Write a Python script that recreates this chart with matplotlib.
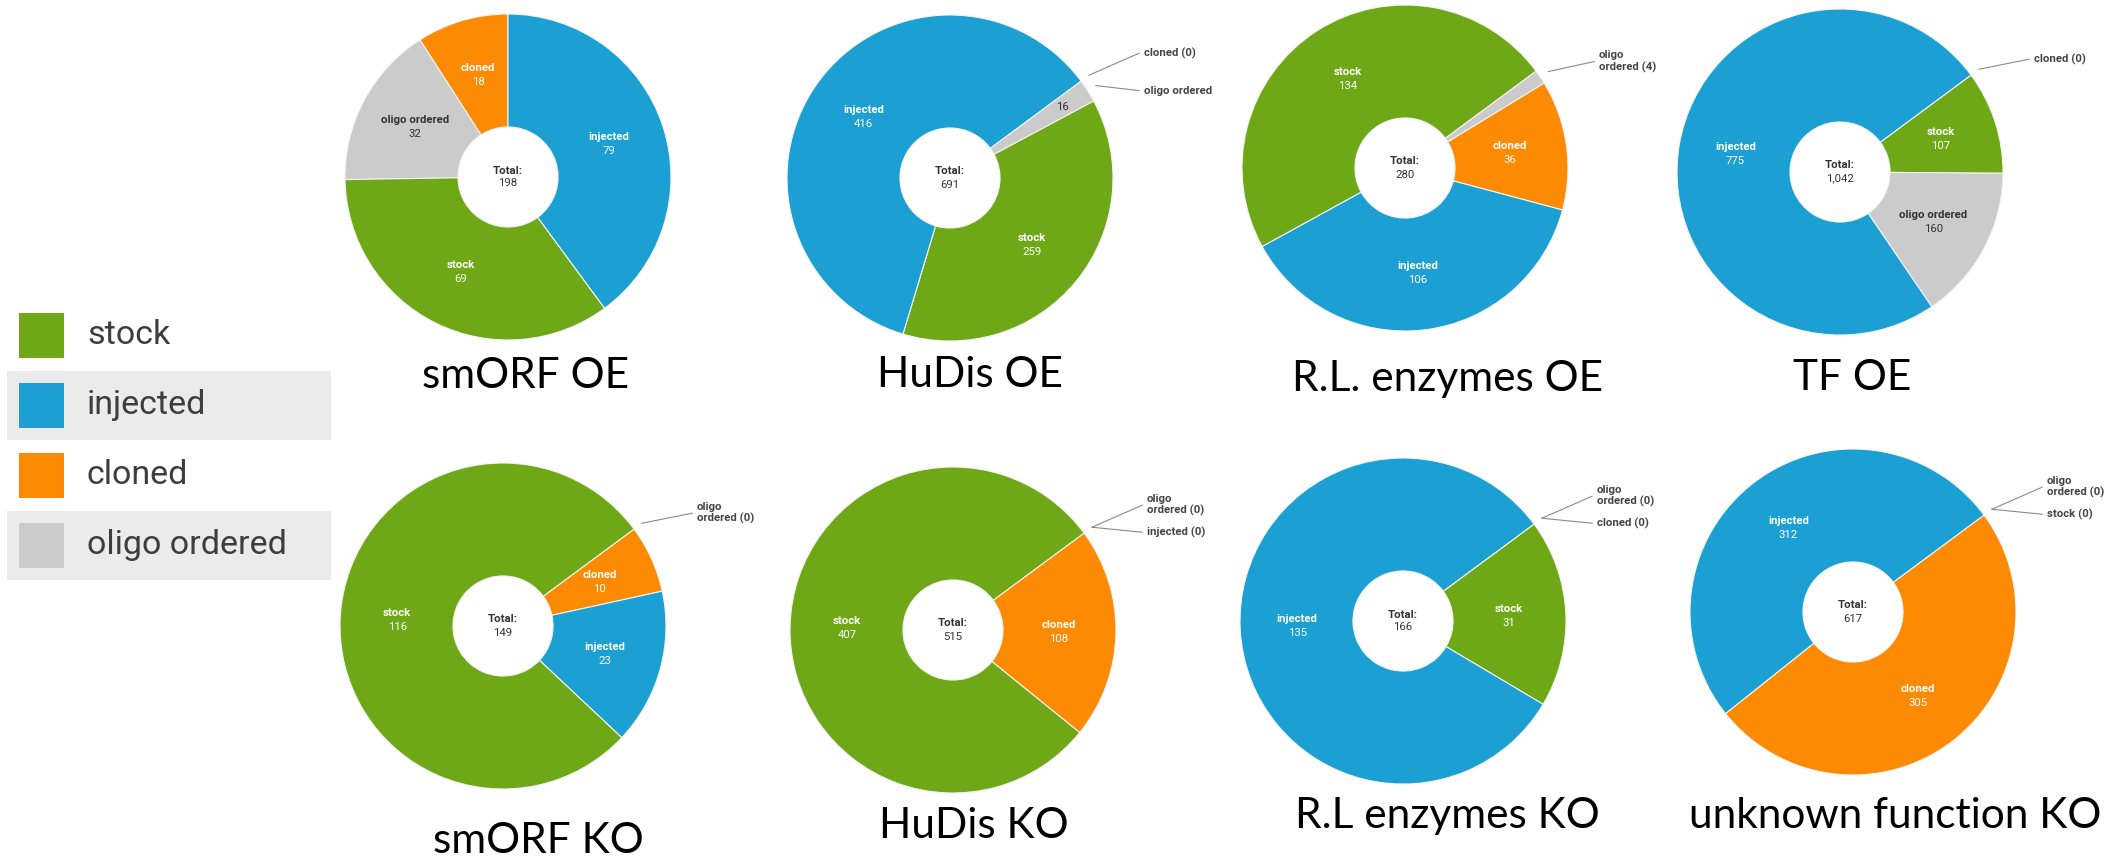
import matplotlib
matplotlib.use('Agg')
import matplotlib.pyplot as plt
from matplotlib.patches import Rectangle
import numpy as np

W, H = 2121, 859

categories = ['stock', 'injected', 'cloned', 'oligo ordered']
colors = ['#6fa816', '#1c9fd2', '#fd8a03', '#cbcbcb']

titles = ['smORF OE', 'HuDis OE', 'R.L. enzymes OE', 'TF OE',
          'smORF KO', 'HuDis KO', 'R.L enzymes KO', 'unknown function KO']
# counts per project, same order as titles
stock    = [69, 259, 134, 107, 116, 407, 31, 0]
injected = [79, 416, 106, 775, 23, 0, 135, 312]
cloned   = [18, 0, 36, 0, 10, 108, 0, 305]
oligo    = [32, 16, 4, 160, 0, 0, 0, 0]

# layout in pixels (y measured from the top)
centers = [(508, 177), (950, 178), (1405, 168), (1840, 172),
           (503, 626), (953, 630), (1403, 621), (1853, 612)]
title_xy = [(526, 388), (970, 387), (1448, 391), (1852, 390),
            (538, 853), (974, 838), (1447, 828), (1895, 828)]   # centre x, baseline y
start_cw = [0, 53.5, 53.5, 53.5, 53.5, 53.5, 53.5, 53.5]   # deg clockwise from 12 o'clock
clockwise = [False, True, True, True, True, True, True, True]
R = 163
HOLE = 0.307

fig = plt.figure(figsize=(W / 100, H / 100), dpi=100)
ax = fig.add_axes([0, 0, 1, 1])

lab_font = 'Roboto'
fs = 8.2
dark = '#333333'

for k in range(8):
    vals = [stock[k], injected[k], cloned[k], oligo[k]]
    total = sum(vals)
    order = sorted(range(4), key=lambda i: (vals[i], -i))
    v = [vals[i] for i in order]
    c = [colors[i] for i in order]
    cx, cy = centers[k][0], H - centers[k][1]
    wedges, _ = ax.pie(v, colors=c, startangle=90 - start_cw[k],
                       counterclock=not clockwise[k], center=(cx, cy), radius=R,
                       wedgeprops=dict(width=R * (1 - HOLE), edgecolor='#f4f4f4', linewidth=0.8))

    outside = []
    for w, i in zip(wedges, order):
        frac = vals[i] / total
        mid = np.deg2rad((w.theta1 + w.theta2) / 2)
        tc = dark if categories[i] == 'oligo ordered' else 'white'
        if frac >= 0.03:
            r = 0.65 * R
            x, y = cx + r * np.cos(mid), cy + r * np.sin(mid)
            ax.text(x, y + 7, categories[i], ha='center', va='center', fontsize=fs,
                    fontweight='bold', color=tc, family=lab_font)
            ax.text(x, y - 7, f'{vals[i]:,}', ha='center', va='center', fontsize=fs,
                    color=tc, family=lab_font)
        elif frac >= 0.02:
            r = 0.82 * R
            ax.text(cx + r * np.cos(mid), cy + r * np.sin(mid), f'{vals[i]:,}',
                    ha='center', va='center', fontsize=fs, color=tc, family=lab_font)
            outside.append((mid, categories[i]))
        else:
            name = f'{categories[i]} ({vals[i]:,})'
            if len(name) > 14:
                name = name.replace(' ', '\n', 1)
            outside.append((mid, name))

    # leader lines for slices too thin to hold a label
    n = len(outside)
    for j, (mid, name) in enumerate(outside):
        ax_, ay_ = cx + 1.06 * R * np.cos(mid), cy + 1.06 * R * np.sin(mid)
        if n == 1:
            ly = ay_ + 10
        else:
            ly = ay_ + (22 if j == 0 else -5)
        ax.plot([ax_, cx + 1.16 * R], [ay_, ly], color='#8a8a8a', lw=0.8)
        ax.text(cx + 1.19 * R, ly, name, ha='left', va='center', fontsize=fs,
                fontweight='bold', color='#444444', family=lab_font, linespacing=1.1)

    ax.text(cx, cy + 6.5, 'Total:', ha='center', va='center', fontsize=fs,
            fontweight='bold', color=dark, family=lab_font)
    ax.text(cx, cy - 6.5, f'{total:,}', ha='center', va='center', fontsize=fs,
            color=dark, family=lab_font)

    tx, ty = title_xy[k]
    ax.text(tx, H - ty, titles[k], ha='center', va='baseline', fontsize=30.5,
            family='Lato', color='black')

# legend with striped rows
row_y = [335, 405, 475, 545]
for j, name in enumerate(categories):
    y = H - row_y[j]
    if j % 2 == 1:
        ax.add_patch(Rectangle((7, y - 34.5), 324, 69, facecolor='#ebebeb', edgecolor='none'))
    ax.add_patch(Rectangle((19, y - 22.5), 45, 45, facecolor=colors[j], edgecolor='none'))
    ax.text(87, y, name, ha='left', va='center', fontsize=24.5, color='#3d3d3d', family=lab_font)

ax.set_xlim(0, W)
ax.set_ylim(0, H)
ax.set_aspect('auto')
ax.axis('off')

fig.savefig('out.png', dpi=100, facecolor='white')
